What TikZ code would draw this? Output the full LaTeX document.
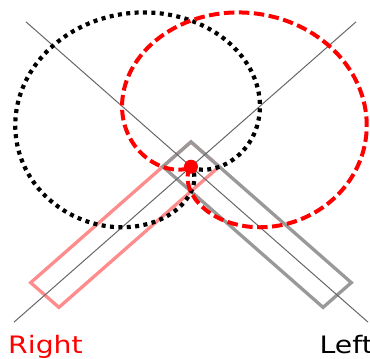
\documentclass[tikz,border=0pt]{standalone}
\usepackage{fontspec}
\newfontfamily\labelfont{DejaVu Sans}
\usetikzlibrary{positioning}

\begin{document}
\begin{tikzpicture}[
  x=1pt, y=0.878pt,
  axisline/.style={draw=black!60, line width=1pt},
  micright/.style={draw=red!45, line width=3.3pt, line join=miter},
  micleft/.style={draw=black!40, line width=3.3pt, line join=miter},
  lobeleft/.style={draw=black, line width=4.2pt, dash pattern=on 4pt off 4.4pt},
  loberight/.style={draw=red, line width=4pt, dash pattern=on 10.5pt off 4.5pt},
  chanlabel/.style={font=\labelfont\fontsize{24}{24}\selectfont, inner sep=0pt, anchor=base west}
]
\useasboundingbox (-191,-217.9) rectangle (179,189.9);

% microphone bodies
\draw[micright] (0,28.3) -- (-160.3,-132) -- (-132.1,-160.2) -- (28.2,0.1) -- cycle;
\draw[micleft] (0,28.3) -- (160.3,-132) -- (132.1,-160.2) -- (-28.2,0.1) -- cycle;

% capsule axes
\coordinate (lefttop) at (-165,165);
\coordinate (leftend) at (177,-177);
\coordinate (rightend) at (-177,-177);
\coordinate (righttop) at (165,165);
\draw[axisline] (lefttop) -- (leftend);
\draw[axisline] (rightend) -- (righttop);

% cardioid pick-up patterns
\draw[lobeleft] plot[smooth, domain=-45:315, samples=181]
  ({97.5*(1+cos(\x-135))*cos(\x)}, {97.5*(1+cos(\x-135))*sin(\x)});
\draw[loberight] plot[smooth, domain=-135:225, samples=181]
  ({97.5*(1+cos(\x-45))*cos(\x)}, {97.5*(1+cos(\x-45))*sin(\x)});

\node[circle, fill=red, minimum size=14pt, inner sep=0pt] (capsule) at (0,0) {};

\node[chanlabel, text=red] (rightlabel) at (-183,-212.5) {\scalebox{1.18}[1]{Right}};
\node[chanlabel, text=black] (leftlabel) at (128.5,-212.5) {\scalebox{1.18}[1]{Left}};
\end{tikzpicture}
\end{document}
